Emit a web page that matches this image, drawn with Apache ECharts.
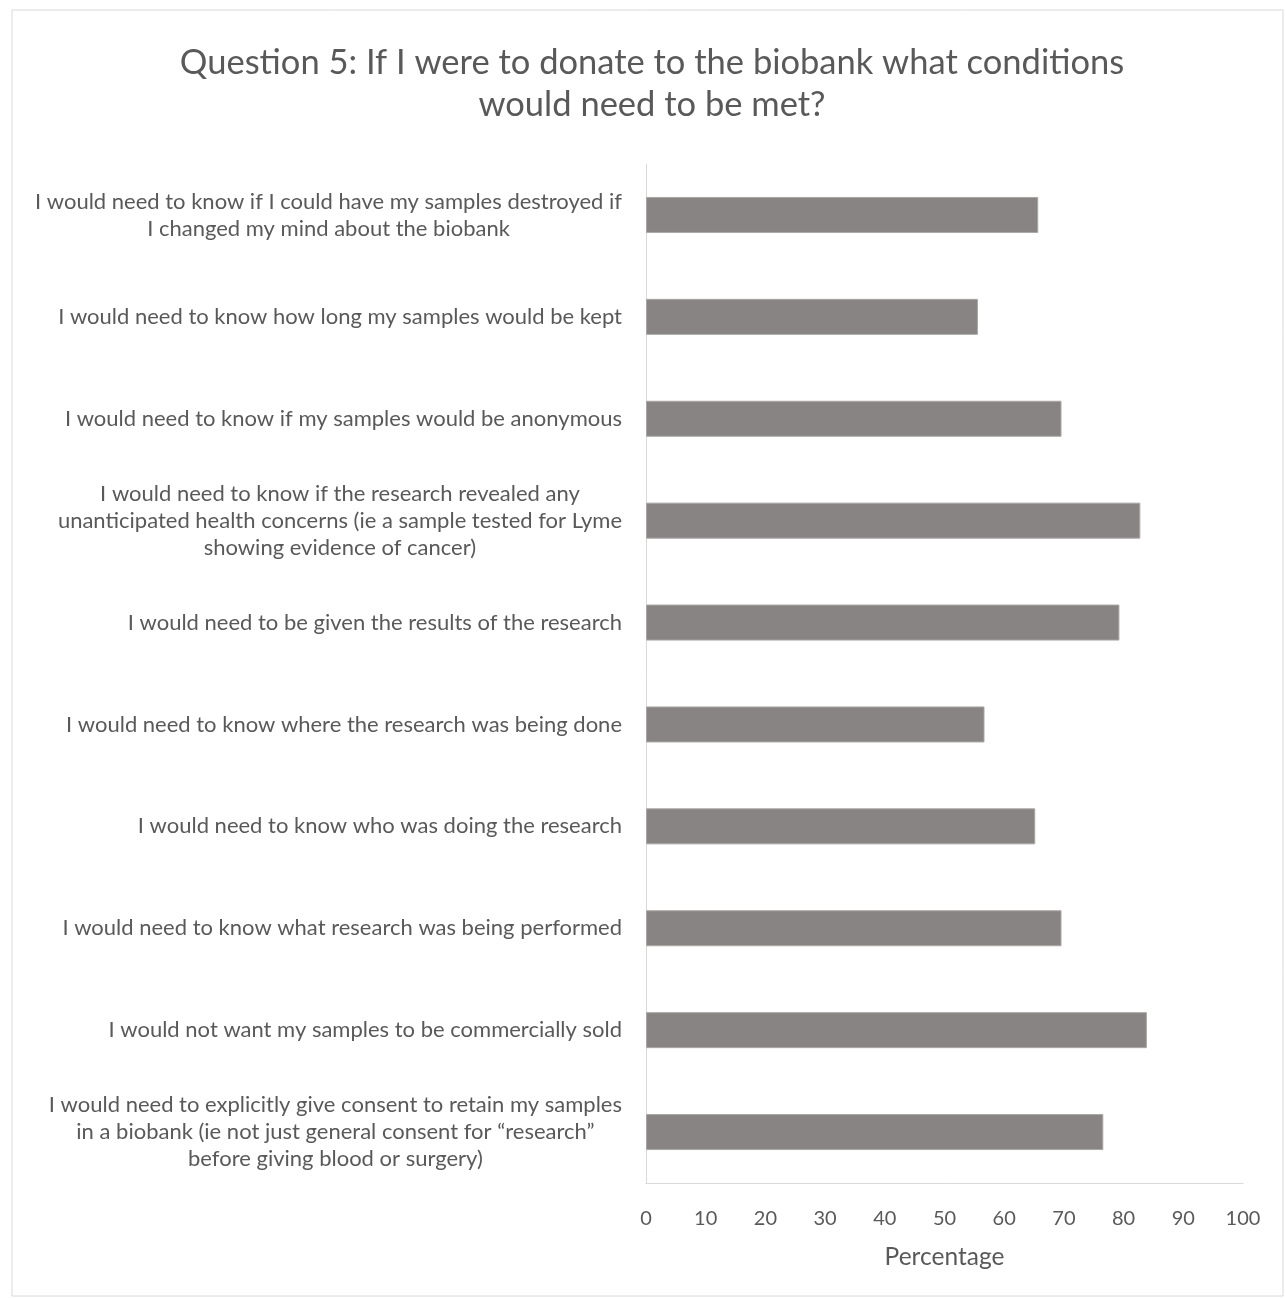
<!DOCTYPE html>
<html>
<head>
<meta charset="utf-8">
<script src="https://cdn.jsdelivr.net/npm/echarts@6/dist/echarts.min.js"></script>
<style>
  html, body { margin: 0; padding: 0; background: #ffffff; }
  #chart { width: 1285px; height: 1298px; }
</style>
</head>
<body>
<div id="chart"></div>
<script>
// Survey conditions (top to bottom) and share of respondents, in percent
const conditions = [
  "I would need to know if I could have my samples destroyed if\nI changed my mind about the biobank",
  "I would need to know how long my samples would be kept",
  "I would need to know if my samples would be anonymous",
  "I would need to know if the research revealed any\nunanticipated health concerns (ie a sample tested for Lyme\nshowing evidence of cancer)",
  "I would need to be given the results of the research",
  "I would need to know where the research was being done",
  "I would need to know who was doing the research",
  "I would need to know what research was being performed",
  "I would not want my samples to be commercially sold",
  "I would need to explicitly give consent to retain my samples\nin a biobank (ie not just general consent for \u201cresearch\u201d\nbefore giving blood or surgery)"
];
const percentages = [65.7, 55.6, 69.6, 82.8, 79.3, 56.7, 65.2, 69.6, 83.9, 76.6];

const titleLines = [
  "Question 5: If I were to donate to the biobank what conditions",
  "would need to be met?"
];
const axisName = "Percentage";

const FONT = "Lato, 'Open Sans', sans-serif";
const TEXT = "#595959";

// wrap every line of a label so each line is centred inside the label block
function centredLines(value) {
  return value.split('\n').map(function (line) { return '{c|' + line + '}'; }).join('\n');
}

const chart = echarts.init(document.getElementById('chart'), null, { renderer: 'canvas' });
chart.setOption({
  backgroundColor: '#ffffff',
  animation: false,
  graphic: [
    {
      type: 'rect',
      shape: { x: 12, y: 10, width: 1271, height: 1286 },
      style: { fill: 'none', stroke: '#d9d9d9', lineWidth: 1 },
      silent: true
    },
    {
      type: 'text',
      x: 652,
      y: 42,
      style: {
        text: titleLines.join('\n'),
        fontFamily: FONT,
        fontSize: 34.5,
        lineHeight: 42,
        fill: TEXT,
        align: 'center',
        verticalAlign: 'top'
      },
      silent: true
    }
  ],
  grid: { left: 646, right: 42, top: 164, bottom: 115, containLabel: false },
  xAxis: {
    type: 'value',
    min: 0,
    max: 100,
    interval: 10,
    name: axisName,
    nameLocation: 'middle',
    nameGap: 62,
    nameTextStyle: { fontFamily: FONT, fontSize: 24.5, color: TEXT },
    axisLine: { show: true, lineStyle: { color: '#d9d9d9', width: 1 } },
    axisTick: { show: false },
    splitLine: { show: false },
    axisLabel: { fontFamily: FONT, fontSize: 20, color: TEXT, margin: 26 }
  },
  yAxis: {
    type: 'category',
    data: conditions,
    inverse: true,
    axisLine: { show: true, lineStyle: { color: '#d9d9d9', width: 1 } },
    axisTick: { show: false },
    axisLabel: {
      margin: 24,
      align: 'right',
      interval: 0,
      formatter: centredLines,
      rich: {
        c: {
          align: 'center',
          fontFamily: FONT,
          fontSize: 22,
          lineHeight: 27,
          color: TEXT
        }
      }
    }
  },
  series: [{
    type: 'bar',
    data: percentages,
    barWidth: 36,
    itemStyle: { color: '#888483', borderColor: '#a9a6a5', borderWidth: 1 }
  }]
});
</script>
</body>
</html>
